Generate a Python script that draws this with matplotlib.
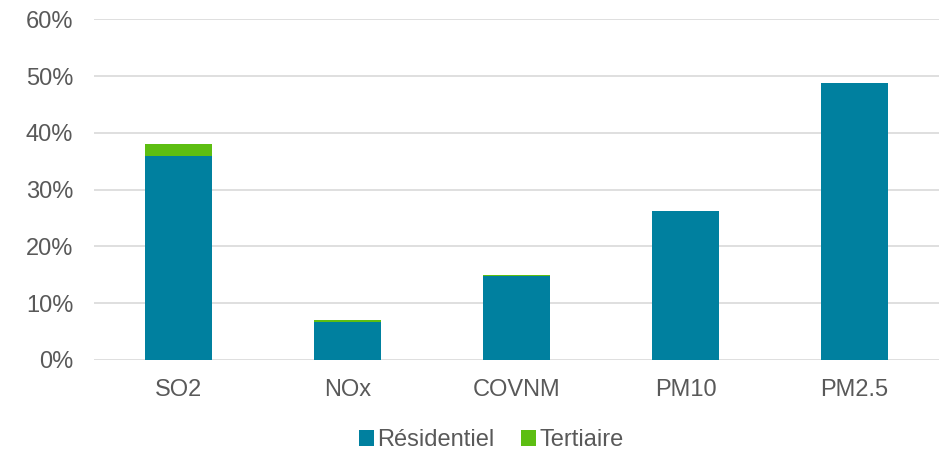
import numpy as np
import matplotlib.pyplot as plt
from matplotlib.ticker import PercentFormatter

plt.rcParams['font.family'] = ['Liberation Sans', 'DejaVu Sans']

polluants = ['SO2', 'NOx', 'COVNM', 'PM10', 'PM2.5']
residentiel = [36.0, 6.7, 14.8, 26.3, 48.8]
tertiaire = [2.1, 0.4, 0.1, 0.0, 0.0]

teal = '#00809F'
green = '#5DBE12'
grey = '#595959'

fig = plt.figure(figsize=(9.43, 4.51), dpi=100)
ax = fig.add_axes([0.0997, 0.2018, 0.896, 0.755])

x = np.arange(len(polluants))
ax.bar(x, residentiel, width=0.4, color=teal, label='Résidentiel', zorder=3)
ax.bar(x, tertiaire, width=0.4, bottom=residentiel, color=green, label='Tertiaire', zorder=3)

ax.set_xlim(-0.5, len(polluants) - 0.5)
ax.set_ylim(0, 60)
ax.set_yticks(np.arange(0, 61, 10))
ax.yaxis.set_major_formatter(PercentFormatter(decimals=0))
ax.set_xticks(x)
ax.set_xticklabels(polluants)

ax.grid(axis='y', color='#D9D9D9', linewidth=1.2, zorder=0)
for s in ax.spines.values():
    s.set_visible(False)
ax.tick_params(length=0, labelsize=17, labelcolor=grey)
ax.tick_params(axis='y', pad=15)
ax.tick_params(axis='x', pad=14)

ax.legend(loc='center', bbox_to_anchor=(0.47, -0.235), ncol=2, frameon=False,
          fontsize=17, labelcolor=grey, handlelength=0.64, handleheight=0.64,
          handletextpad=0.15, columnspacing=1.1)

fig.savefig('out.png', dpi=100)
